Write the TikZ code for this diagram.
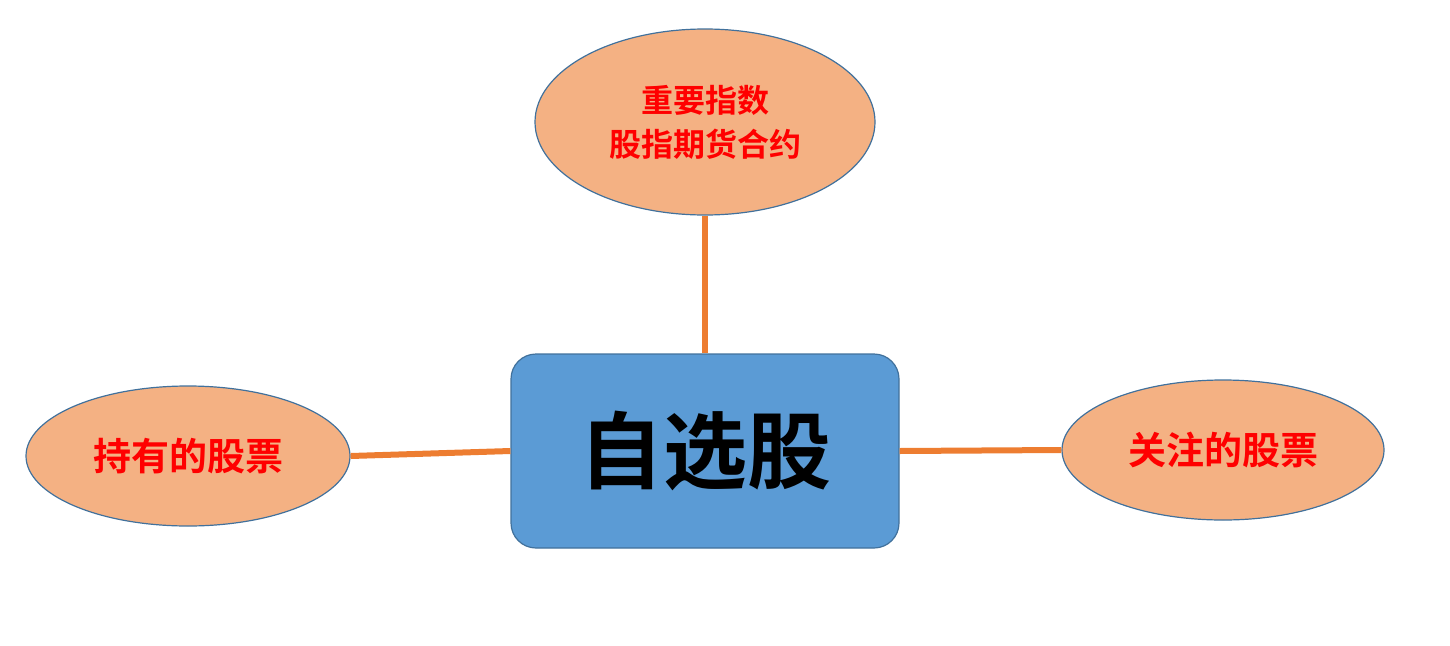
\documentclass[tikz,border=0pt]{standalone}
\usepackage{fontspec}
\newfontfamily\cjk{Noto Sans CJK SC Bold}
\usetikzlibrary{shapes.geometric}
\definecolor{boxblue}{HTML}{5B9BD5}
\definecolor{edgeblue}{HTML}{41719C}
\definecolor{peach}{HTML}{F4B183}
\definecolor{link}{HTML}{ED7D31}
\tikzset{
  leaf/.style={ellipse,draw=edgeblue,line width=1.2pt,fill=peach,inner sep=0pt,text=red,font=\cjk,align=center},
  hub/.style={rectangle,rounded corners=25pt,draw=edgeblue,line width=1.2pt,fill=boxblue,minimum width=388pt,minimum height=194pt,font=\cjk\fontsize{84}{90}\selectfont},
  conn/.style={draw=link,line width=6pt}
}
\begin{document}
\begin{tikzpicture}[x=1pt,y=-1pt]
\useasboundingbox (0,0) rectangle (1450,645);
\node[hub] (c) at (705,451) {自选股};
\node[leaf,minimum width=340pt,minimum height=186pt,font=\cjk\fontsize{32}{44}\selectfont] (t) at (705,122) {重要指数\\股指期货合约};
\node[leaf,minimum width=324pt,minimum height=140pt,font=\cjk\fontsize{38}{44}\selectfont] (l) at (188,456) {持有的股票};
\node[leaf,minimum width=322pt,minimum height=140pt,font=\cjk\fontsize{38}{44}\selectfont] (r) at (1223,450) {关注的股票};
\draw[conn] (t.south) -- (c.north);
\draw[conn] (l.east) -- (c.west);
\draw[conn] (c.east) -- (r.west);
\end{tikzpicture}
\end{document}
